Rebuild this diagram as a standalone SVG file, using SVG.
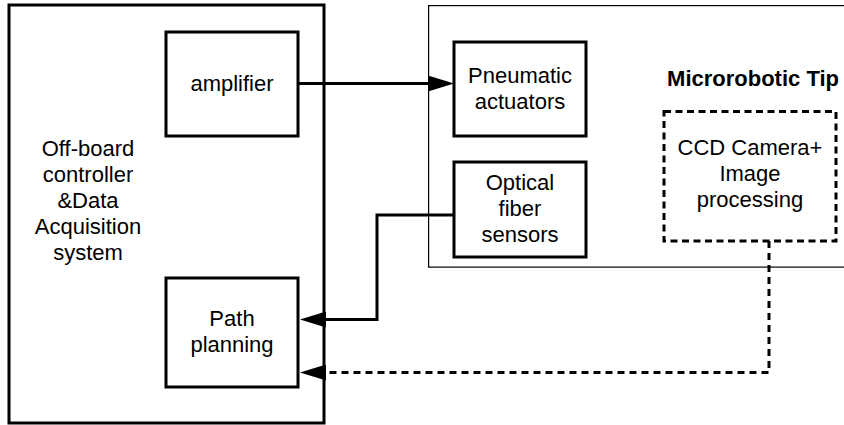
<svg xmlns="http://www.w3.org/2000/svg" width="844" height="425" viewBox="0 0 844 425">
<style>
text{font-family:"Liberation Sans",Arial,sans-serif;font-size:22px;fill:#000;text-anchor:middle}
.b{fill:#fff;stroke:#000;stroke-width:3}
.thin{fill:none;stroke:#000;stroke-width:1.2}
.dbox{fill:none;stroke:#000;stroke-width:3;stroke-dasharray:7 4.5}
.c{fill:none;stroke:#000;stroke-width:3}
.d{fill:none;stroke:#000;stroke-width:3;stroke-dasharray:7 5}
.bold{font-weight:bold}
</style>
<defs>
<marker id="ah" markerUnits="userSpaceOnUse" markerWidth="26" markerHeight="16" refX="16" refY="8" orient="auto" viewBox="0 0 26 16">
<path d="M0,0 L26,8 L0,16 z" fill="#000" stroke="none"/>
</marker>
</defs>
<rect width="844" height="425" fill="#fff"/>
<g id="offboard">
<rect class="b" x="9" y="5" width="315" height="418"/>
<text x="88" y="156">Off-board</text>
<text x="88" y="182">controller</text>
<text x="88" y="208">&amp;Data</text>
<text x="88" y="234">Acquisition</text>
<text x="88" y="260">system</text>
</g>
<g id="tip">
<rect class="thin" x="428.6" y="5.6" width="420" height="261.5"/>
<text class="bold" x="839" y="86" style="text-anchor:end">Microrobotic Tip</text>
</g>
<g id="amplifier">
<rect class="b" x="166" y="32" width="132" height="104"/>
<text x="232" y="91">amplifier</text>
</g>
<g id="pathplanning">
<rect class="b" x="166" y="278" width="132" height="109"/>
<text x="232" y="326">Path</text>
<text x="232" y="352">planning</text>
</g>
<g id="pneumatic">
<rect class="b" x="454" y="42" width="132" height="94"/>
<text x="520" y="83">Pneumatic</text>
<text x="520" y="109">actuators</text>
</g>
<g id="optical">
<rect class="b" x="454" y="162" width="132" height="95"/>
<text x="520" y="190">Optical</text>
<text x="520" y="216">fiber</text>
<text x="520" y="242">sensors</text>
</g>
<g id="ccd">
<rect class="dbox" x="664" y="111.5" width="172" height="129.5"/>
<text x="750" y="155">CCD Camera+</text>
<text x="750" y="181">Image</text>
<text x="750" y="207">processing</text>
</g>
<g id="connectors">
<path class="c" d="M298,83.5 H444" marker-end="url(#ah)"/>
<path class="c" d="M454,215 H377 V319.5 H310" marker-end="url(#ah)"/>
<path class="d" d="M769,241 V372.5 H323"/>
<path class="c" d="M324,372.5 H310" marker-end="url(#ah)"/>
</g>
</svg>
